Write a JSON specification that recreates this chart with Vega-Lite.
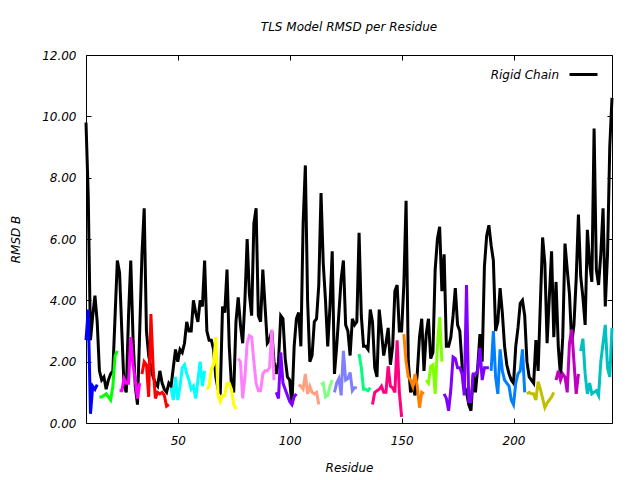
{
 "$schema": "https://vega.github.io/schema/vega-lite/v6.json",
 "width": 526, "height": 368,
 "autosize": "none",
 "padding": {"left": 86, "top": 55, "right": 28, "bottom": 57},
 "background": "white",
 "config": {
  "view": {"stroke": "black", "strokeWidth": 1},
  "font": "DejaVu Sans",
  "axis": {"domain": false, "grid": false, "tickColor": "black", "tickSize": -5, "tickWidth": 1,
   "labelFont": "DejaVu Sans", "labelFontSize": 12, "labelFontStyle": "italic", "labelColor": "black",
   "titleFont": "DejaVu Sans", "titleFontSize": 12, "titleFontStyle": "italic", "titleFontWeight": "normal", "titleColor": "black"}
 },
 "title": {"text": "TLS Model RMSD per Residue", "font": "DejaVu Sans", "fontSize": 12, "fontStyle": "italic", "fontWeight": "normal", "color": "black", "baseline": "alphabetic", "offset": 6},
 "datasets": {
  "rigid": [
   {"r":9,"v":9.8},{"r":10,"v":7.4},{"r":11,"v":2.7},{"r":12,"v":3.5},{"r":13,"v":4.15},{"r":14,"v":3.3},{"r":15,"v":1.7},{"r":16,"v":1.4},{"r":17,"v":1.5},{"r":18,"v":1.1},
   {"r":19,"v":1.4},{"r":20,"v":1.6},{"r":21,"v":1.7},{"r":22,"v":3.5},{"r":23,"v":5.3},{"r":24,"v":4.9},{"r":25,"v":3.0},{"r":26,"v":1.2},{"r":27,"v":1.0},{"r":28,"v":3.5},
   {"r":29,"v":5.3},{"r":30,"v":2.8},{"r":31,"v":1.2},{"r":32,"v":0.6},{"r":33,"v":3.0},{"r":34,"v":5.5},{"r":35,"v":7.0},{"r":36,"v":3.0},{"r":37,"v":2.2},{"r":38,"v":1.8},
   {"r":39,"v":1.5},{"r":40,"v":1.3},{"r":41,"v":1.2},{"r":42,"v":1.7},{"r":43,"v":1.3},{"r":44,"v":1.1},{"r":45,"v":1.0},{"r":46,"v":1.3},{"r":47,"v":1.2},{"r":48,"v":1.8},
   {"r":49,"v":2.4},{"r":50,"v":2.0},{"r":51,"v":2.4},{"r":52,"v":2.3},{"r":53,"v":2.6},{"r":54,"v":3.3},{"r":55,"v":3.0},{"r":56,"v":3.0},{"r":57,"v":4.0},{"r":58,"v":3.6},
   {"r":59,"v":3.3},{"r":60,"v":4.0},{"r":61,"v":3.8},{"r":62,"v":5.3},{"r":63,"v":3.0},{"r":64,"v":2.7},{"r":65,"v":2.7},{"r":66,"v":2.4},{"r":67,"v":1.5},{"r":68,"v":1.1},
   {"r":69,"v":1.0},{"r":70,"v":3.8},{"r":71,"v":3.6},{"r":72,"v":5.0},{"r":73,"v":2.5},{"r":74,"v":1.2},{"r":75,"v":1.0},{"r":76,"v":3.3},{"r":77,"v":4.1},{"r":78,"v":3.2},
   {"r":79,"v":2.6},{"r":80,"v":4.0},{"r":81,"v":6.0},{"r":82,"v":4.2},{"r":83,"v":3.5},{"r":84,"v":6.5},{"r":85,"v":7.0},{"r":86,"v":3.5},{"r":87,"v":3.3},{"r":88,"v":5.0},
   {"r":89,"v":3.8},{"r":90,"v":2.6},{"r":91,"v":2.7},{"r":92,"v":3.0},{"r":93,"v":2.0},{"r":94,"v":1.6},{"r":95,"v":2.0},{"r":96,"v":3.5},{"r":97,"v":3.4},{"r":98,"v":2.1},
   {"r":99,"v":1.5},{"r":100,"v":1.4},{"r":101,"v":0.6},{"r":102,"v":2.5},{"r":103,"v":3.4},{"r":104,"v":3.6},{"r":105,"v":2.5},{"r":106,"v":6.5},{"r":107,"v":8.4},{"r":108,"v":4.0},
   {"r":109,"v":2.0},{"r":110,"v":2.2},{"r":111,"v":3.3},{"r":112,"v":3.4},{"r":113,"v":4.5},{"r":114,"v":7.5},{"r":115,"v":5.2},{"r":116,"v":4.0},{"r":117,"v":2.5},{"r":118,"v":3.8},
   {"r":119,"v":5.6},{"r":120,"v":1.6},{"r":121,"v":2.5},{"r":122,"v":3.6},{"r":123,"v":4.7},{"r":124,"v":5.3},{"r":125,"v":3.2},{"r":126,"v":3.0},{"r":127,"v":2.2},{"r":128,"v":3.4},
   {"r":129,"v":3.2},{"r":130,"v":3.3},{"r":131,"v":6.2},{"r":132,"v":3.5},{"r":133,"v":2.5},{"r":134,"v":2.5},{"r":135,"v":2.4},{"r":136,"v":3.7},{"r":137,"v":3.3},{"r":138,"v":1.8},
   {"r":139,"v":1.5},{"r":140,"v":3.7},{"r":141,"v":3.0},{"r":142,"v":2.2},{"r":143,"v":2.6},{"r":144,"v":3.1},{"r":145,"v":1.9},{"r":146,"v":2.5},{"r":147,"v":4.3},{"r":148,"v":4.5},
   {"r":149,"v":3.0},{"r":150,"v":3.0},{"r":151,"v":4.5},{"r":152,"v":7.25},{"r":153,"v":2.0},{"r":154,"v":1.0},{"r":155,"v":1.2},{"r":156,"v":0.9},{"r":157,"v":1.6},{"r":158,"v":2.8},
   {"r":159,"v":3.4},{"r":160,"v":1.7},{"r":161,"v":2.9},{"r":162,"v":3.4},{"r":163,"v":2.1},{"r":164,"v":2.3},{"r":165,"v":5.0},{"r":166,"v":6.0},{"r":167,"v":6.4},{"r":168,"v":4.3},
   {"r":169,"v":5.5},{"r":170,"v":2.5},{"r":171,"v":2.5},{"r":172,"v":2.8},{"r":173,"v":3.5},{"r":174,"v":4.4},{"r":175,"v":3.2},{"r":176,"v":3.0},{"r":177,"v":1.9},{"r":178,"v":1.2},
   {"r":179,"v":1.0},{"r":180,"v":0.6},{"r":181,"v":0.4},{"r":182,"v":1.6},{"r":183,"v":1.0},{"r":184,"v":1.8},{"r":185,"v":2.9},{"r":186,"v":2.0},{"r":187,"v":5.1},{"r":188,"v":6.1},
   {"r":189,"v":6.45},{"r":190,"v":5.8},{"r":191,"v":5.3},{"r":192,"v":3.0},{"r":193,"v":3.3},{"r":194,"v":4.4},{"r":195,"v":3.6},{"r":196,"v":2.5},{"r":197,"v":1.9},{"r":198,"v":1.6},
   {"r":199,"v":1.4},{"r":200,"v":1.3},{"r":201,"v":2.5},{"r":202,"v":3.1},{"r":203,"v":3.9},{"r":204,"v":4.0},{"r":205,"v":3.5},{"r":206,"v":2.0},{"r":207,"v":1.5},{"r":208,"v":1.4},
   {"r":209,"v":1.3},{"r":210,"v":2.7},{"r":211,"v":1.7},{"r":212,"v":3.9},{"r":213,"v":6.05},{"r":214,"v":5.2},{"r":215,"v":2.6},{"r":216,"v":4.1},{"r":217,"v":5.6},{"r":218,"v":2.8},
   {"r":219,"v":4.6},{"r":220,"v":2.5},{"r":221,"v":1.5},{"r":222,"v":2.8},{"r":223,"v":5.85},{"r":224,"v":5.0},{"r":225,"v":4.2},{"r":226,"v":2.6},{"r":227,"v":3.2},{"r":228,"v":4.7},
   {"r":229,"v":6.8},{"r":230,"v":4.8},{"r":231,"v":4.1},{"r":232,"v":3.2},{"r":233,"v":6.3},{"r":234,"v":5.2},{"r":235,"v":4.6},{"r":236,"v":9.6},{"r":237,"v":5.0},{"r":238,"v":4.5},
   {"r":239,"v":5.5},{"r":240,"v":7.0},{"r":241,"v":3.8},{"r":242,"v":5.5},{"r":243,"v":9.0},{"r":244,"v":10.6}
  ],
  "tls": [
   {"r":9,"v":2.7,"g":"g01"},{"r":10,"v":3.7,"g":"g01"},{"r":11,"v":0.3,"g":"g01"},{"r":12,"v":1.2,"g":"g01"},{"r":13,"v":1.1,"g":"g01"},{"r":14,"v":1.25,"g":"g01"},
   {"r":15,"v":0.85,"g":"g02"},{"r":16,"v":0.85,"g":"g02"},{"r":17,"v":0.9,"g":"g02"},{"r":18,"v":0.95,"g":"g02"},{"r":19,"v":0.85,"g":"g02"},{"r":20,"v":0.75,"g":"g02"},{"r":21,"v":1.2,"g":"g02"},{"r":22,"v":2.2,"g":"g02"},{"r":23,"v":2.35,"g":"g02"},
   {"r":24,"v":1.05,"g":"g03"},{"r":25,"v":1.05,"g":"g03"},{"r":26,"v":1.45,"g":"g03"},{"r":27,"v":1.3,"g":"g03"},{"r":28,"v":1.3,"g":"g03"},{"r":29,"v":2.8,"g":"g03"},{"r":30,"v":1.9,"g":"g03"},{"r":31,"v":1.4,"g":"g03"},{"r":32,"v":0.8,"g":"g03"},{"r":33,"v":1.3,"g":"g03"},
   {"r":34,"v":1.6,"g":"g04"},{"r":35,"v":2.0,"g":"g04"},{"r":36,"v":1.9,"g":"g04"},{"r":37,"v":0.85,"g":"g04"},{"r":38,"v":3.55,"g":"g04"},{"r":39,"v":1.8,"g":"g04"},{"r":40,"v":0.8,"g":"g04"},{"r":41,"v":1.0,"g":"g04"},{"r":42,"v":0.95,"g":"g04"},{"r":43,"v":1.0,"g":"g04"},{"r":44,"v":0.9,"g":"g04"},{"r":45,"v":0.55,"g":"g04"},{"r":46,"v":0.6,"g":"g04"},
   {"r":47,"v":1.15,"g":"g05"},{"r":48,"v":0.75,"g":"g05"},{"r":49,"v":1.5,"g":"g05"},{"r":50,"v":0.75,"g":"g05"},{"r":51,"v":1.2,"g":"g05"},{"r":52,"v":1.8,"g":"g05"},{"r":53,"v":1.9,"g":"g05"},{"r":54,"v":1.6,"g":"g05"},{"r":55,"v":1.4,"g":"g05"},{"r":56,"v":1.1,"g":"g05"},{"r":57,"v":1.2,"g":"g05"},{"r":58,"v":0.8,"g":"g05"},{"r":59,"v":1.4,"g":"g05"},{"r":60,"v":2.0,"g":"g05"},{"r":61,"v":1.2,"g":"g05"},{"r":62,"v":1.7,"g":"g05"},
   {"r":63,"v":1.1,"g":"g06"},{"r":64,"v":1.2,"g":"g06"},{"r":65,"v":1.75,"g":"g06"},{"r":66,"v":1.9,"g":"g06"},{"r":67,"v":2.8,"g":"g06"},{"r":68,"v":0.9,"g":"g06"},{"r":69,"v":0.7,"g":"g06"},{"r":70,"v":0.9,"g":"g06"},{"r":71,"v":0.9,"g":"g06"},{"r":72,"v":1.3,"g":"g06"},{"r":73,"v":1.3,"g":"g06"},{"r":74,"v":1.1,"g":"g06"},{"r":75,"v":0.6,"g":"g06"},{"r":76,"v":0.45,"g":"g06"},
   {"r":77,"v":2.1,"g":"g07"},{"r":78,"v":2.0,"g":"g07"},{"r":79,"v":0.8,"g":"g07"},{"r":80,"v":1.5,"g":"g07"},{"r":81,"v":2.6,"g":"g07"},{"r":82,"v":2.85,"g":"g07"},{"r":83,"v":2.8,"g":"g07"},{"r":84,"v":2.0,"g":"g07"},{"r":85,"v":1.3,"g":"g07"},{"r":86,"v":1.05,"g":"g07"},{"r":87,"v":1.05,"g":"g07"},{"r":88,"v":1.6,"g":"g07"},{"r":89,"v":1.7,"g":"g07"},{"r":90,"v":1.7,"g":"g07"},{"r":91,"v":1.8,"g":"g07"},{"r":92,"v":3.05,"g":"g07"},{"r":93,"v":1.4,"g":"g07"},
   {"r":94,"v":1.0,"g":"g08"},{"r":95,"v":0.8,"g":"g08"},{"r":96,"v":2.3,"g":"g08"},{"r":97,"v":1.3,"g":"g08"},{"r":98,"v":1.1,"g":"g08"},{"r":99,"v":0.9,"g":"g08"},{"r":100,"v":0.7,"g":"g08"},{"r":101,"v":0.6,"g":"g08"},{"r":102,"v":0.85,"g":"g08"},{"r":103,"v":0.95,"g":"g08"},
   {"r":104,"v":1.25,"g":"g09"},{"r":105,"v":1.2,"g":"g09"},{"r":106,"v":1.1,"g":"g09"},{"r":107,"v":1.6,"g":"g09"},{"r":108,"v":0.95,"g":"g09"},{"r":109,"v":1.2,"g":"g09"},{"r":110,"v":1.0,"g":"g09"},{"r":111,"v":0.95,"g":"g09"},{"r":112,"v":1.0,"g":"g09"},{"r":113,"v":0.6,"g":"g09"},
   {"r":114,"v":1.25,"g":"g10"},{"r":115,"v":1.3,"g":"g10"},{"r":116,"v":0.85,"g":"g10"},{"r":117,"v":0.9,"g":"g10"},{"r":118,"v":1.2,"g":"g10"},{"r":119,"v":1.4,"g":"g10"},
   {"r":120,"v":1.0,"g":"g11"},{"r":121,"v":1.3,"g":"g11"},{"r":122,"v":1.45,"g":"g11"},{"r":123,"v":0.9,"g":"g11"},{"r":124,"v":2.35,"g":"g11"},{"r":125,"v":1.4,"g":"g11"},{"r":126,"v":1.45,"g":"g11"},{"r":127,"v":1.65,"g":"g11"},{"r":128,"v":1.05,"g":"g11"},{"r":129,"v":1.15,"g":"g11"},{"r":130,"v":1.15,"g":"g11"},
   {"r":131,"v":2.25,"g":"g12"},{"r":132,"v":1.8,"g":"g12"},{"r":133,"v":1.1,"g":"g12"},{"r":134,"v":1.1,"g":"g12"},{"r":135,"v":1.05,"g":"g12"},{"r":136,"v":1.15,"g":"g12"},
   {"r":137,"v":0.6,"g":"g13"},{"r":138,"v":1.0,"g":"g13"},{"r":139,"v":1.05,"g":"g13"},{"r":140,"v":1.1,"g":"g13"},{"r":141,"v":1.2,"g":"g13"},{"r":142,"v":1.0,"g":"g13"},{"r":143,"v":1.0,"g":"g13"},{"r":144,"v":1.85,"g":"g13"},{"r":145,"v":1.2,"g":"g13"},{"r":146,"v":1.15,"g":"g13"},{"r":147,"v":1.0,"g":"g13"},{"r":148,"v":2.7,"g":"g13"},{"r":149,"v":1.0,"g":"g13"},{"r":150,"v":0.2,"g":"g13"},
   {"r":151,"v":2.9,"g":"g14"},{"r":152,"v":2.0,"g":"g14"},{"r":153,"v":1.5,"g":"g14"},{"r":154,"v":1.4,"g":"g14"},{"r":155,"v":1.2,"g":"g14"},{"r":156,"v":1.6,"g":"g14"},{"r":157,"v":1.2,"g":"g14"},{"r":158,"v":0.5,"g":"g14"},{"r":159,"v":1.0,"g":"g14"},{"r":160,"v":0.95,"g":"g14"},
   {"r":161,"v":1.4,"g":"g15"},{"r":162,"v":1.3,"g":"g15"},{"r":163,"v":1.85,"g":"g15"},{"r":164,"v":1.9,"g":"g15"},{"r":165,"v":0.95,"g":"g15"},{"r":166,"v":2.5,"g":"g15"},{"r":167,"v":3.45,"g":"g15"},{"r":168,"v":2.0,"g":"g15"},
   {"r":169,"v":0.95,"g":"g16"},{"r":170,"v":0.8,"g":"g16"},{"r":171,"v":0.4,"g":"g16"},{"r":172,"v":1.1,"g":"g16"},{"r":173,"v":2.15,"g":"g16"},{"r":174,"v":2.1,"g":"g16"},{"r":175,"v":1.8,"g":"g16"},{"r":176,"v":1.8,"g":"g16"},{"r":177,"v":1.6,"g":"g16"},{"r":178,"v":0.9,"g":"g16"},{"r":179,"v":4.5,"g":"g16"},{"r":180,"v":0.7,"g":"g16"},{"r":181,"v":0.7,"g":"g16"},{"r":182,"v":1.6,"g":"g16"},{"r":183,"v":1.6,"g":"g16"},{"r":184,"v":1.7,"g":"g16"},{"r":185,"v":2.45,"g":"g16"},{"r":186,"v":1.4,"g":"g16"},{"r":187,"v":1.8,"g":"g16"},{"r":188,"v":1.8,"g":"g16"},{"r":189,"v":1.8,"g":"g16"},
   {"r":190,"v":1.7,"g":"g17"},{"r":191,"v":3.0,"g":"g17"},{"r":192,"v":1.5,"g":"g17"},{"r":193,"v":0.95,"g":"g17"},{"r":194,"v":2.4,"g":"g17"},{"r":195,"v":1.7,"g":"g17"},{"r":196,"v":1.4,"g":"g17"},{"r":197,"v":1.3,"g":"g17"},{"r":198,"v":1.2,"g":"g17"},{"r":199,"v":0.75,"g":"g17"},{"r":200,"v":0.6,"g":"g17"},{"r":201,"v":1.3,"g":"g17"},{"r":202,"v":1.6,"g":"g17"},{"r":203,"v":1.7,"g":"g17"},{"r":204,"v":2.4,"g":"g17"},{"r":205,"v":1.0,"g":"g17"},
   {"r":206,"v":0.95,"g":"g18"},{"r":207,"v":1.0,"g":"g18"},{"r":208,"v":0.95,"g":"g18"},{"r":209,"v":0.95,"g":"g18"},{"r":210,"v":0.75,"g":"g18"},{"r":211,"v":1.35,"g":"g18"},{"r":212,"v":1.1,"g":"g18"},{"r":213,"v":0.8,"g":"g18"},{"r":214,"v":0.5,"g":"g18"},{"r":215,"v":0.65,"g":"g18"},{"r":216,"v":0.75,"g":"g18"},{"r":217,"v":0.85,"g":"g18"},{"r":218,"v":1.0,"g":"g18"},
   {"r":219,"v":1.4,"g":"g19"},{"r":220,"v":1.7,"g":"g19"},{"r":221,"v":1.4,"g":"g19"},{"r":222,"v":1.6,"g":"g19"},{"r":223,"v":1.5,"g":"g19"},{"r":224,"v":1.0,"g":"g19"},{"r":225,"v":2.6,"g":"g19"},{"r":226,"v":3.05,"g":"g19"},{"r":227,"v":2.0,"g":"g19"},{"r":228,"v":0.95,"g":"g19"},{"r":229,"v":1.6,"g":"g19"},
   {"r":230,"v":2.35,"g":"g20"},{"r":231,"v":2.75,"g":"g20"},{"r":232,"v":1.6,"g":"g20"},{"r":233,"v":0.95,"g":"g20"},{"r":234,"v":1.3,"g":"g20"},{"r":235,"v":0.95,"g":"g20"},{"r":236,"v":1.0,"g":"g20"},{"r":237,"v":1.05,"g":"g20"},{"r":238,"v":0.9,"g":"g20"},{"r":239,"v":2.0,"g":"g20"},{"r":240,"v":2.6,"g":"g20"},{"r":241,"v":3.2,"g":"g20"},{"r":242,"v":1.8,"g":"g20"},{"r":243,"v":1.5,"g":"g20"},{"r":244,"v":3.1,"g":"g20"}
  ]
 },
 "layer": [
  {
   "data": {"name": "rigid"},
   "mark": {"type": "line", "strokeWidth": 3},
   "encoding": {
    "x": {"field": "r", "type": "quantitative", "scale": {"domain": [9, 244], "nice": false, "zero": false},
     "axis": {"orient": "bottom", "values": [50, 100, 150, 200], "title": "Residue", "labelPadding": 17, "titlePadding": 16}},
    "y": {"field": "v", "type": "quantitative", "scale": {"domain": [0, 12], "nice": false, "zero": false},
     "axis": {"orient": "left", "values": [0, 2, 4, 6, 8, 10, 12], "format": ".2f", "title": "RMSD B", "labelPadding": 15, "titlePadding": 19}},
    "color": {"datum": "Rigid Chain", "scale": {"range": ["black"]},
     "legend": {"orient": "none", "legendX": 482, "legendY": 4, "title": null, "symbolType": "stroke", "symbolSize": 784, "symbolStrokeWidth": 3,
      "labelAlign": "right", "labelOffset": -40, "labelFont": "DejaVu Sans", "labelFontSize": 12, "labelFontStyle": "italic", "labelColor": "black"}}
   }
  },
  {
   "data": {"name": "tls"},
   "mark": {"type": "line", "strokeWidth": 3},
   "encoding": {
    "x": {"field": "r", "type": "quantitative", "axis": {"orient": "top", "values": [50, 100, 150, 200], "labels": false, "title": null}},
    "y": {"field": "v", "type": "quantitative", "axis": {"orient": "right", "values": [0, 2, 4, 6, 8, 10, 12], "labels": false, "title": null}},
    "color": {"field": "g", "type": "nominal",
     "scale": {"domain": ["g01","g02","g03","g04","g05","g06","g07","g08","g09","g10","g11","g12","g13","g14","g15","g16","g17","g18","g19","g20"],
      "range": ["#0000ff","#00ff00","#ff00ff","#ff0000","#00ffff","#ffff00","#ff80ff","#8000ff","#ffa080","#80ff80","#8080ff","#00ff80","#ff0080","#ff8000","#80ff00","#8000ff","#0080ff","#c0c000","#c000c0","#00c0c0"]},
     "legend": null}
   }
  }
 ],
 "resolve": {"scale": {"color": "independent"}, "axis": {"x": "independent", "y": "independent"}}
}
